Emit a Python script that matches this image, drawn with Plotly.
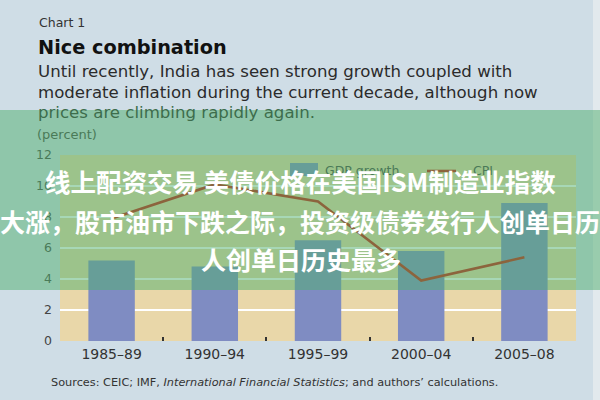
import plotly.graph_objects as go

# ---- data ----
periods = ["1985–89", "1990–94", "1995–99", "2000–04", "2005–08"]
gdp_growth = [5.2, 4.8, 6.5, 5.8, 8.9]
cpi = [7.9, 10.1, 9.0, 3.9, 5.4]
y_ticks = [0, 2, 4, 6, 8, 10, 12]

title_small = "Chart 1"
title_main = "Nice combination"
subtitle_lines = [
    "Until recently, India has seen strong growth coupled with",
    "moderate inflation during the current decade, although now",
    "prices are climbing rapidly again.",
]
unit_label = "(percent)"
source_text = ("Sources: CEIC; IMF, <i>International Financial Statistics</i>; "
               "and authors’ calculations.")
overlay_lines = [
    "线上配资交易 美债价格在美国ISM制造业指数",
    "大涨，股市油市下跌之际，投资级债券发行人创单日历",
    "人创单日历史最多",
]

# ---- layout geometry ----
W, H = 600, 400
L, R, T, B = 60, 24, 155, 59
PW, PH = W - L - R, H - T - B


def fx(px):
    return (px - L) / PW


def fy(py):
    return (H - B - py) / PH


OV = (79, 175, 109)
OV_A = 0.5


def blend(rgb):
    return "rgb(%d,%d,%d)" % tuple(round(c * (1 - OV_A) + o * OV_A) for c, o in zip(rgb, OV))


BAR_COLOR = "#7f8cc2"
LINE_COLOR = "rgb(200,25,12)"

fig = go.Figure()
fig.add_trace(go.Bar(x=periods, y=gdp_growth, name="GDP growth",
                     marker=dict(color=BAR_COLOR, line=dict(width=0)),
                     showlegend=False))
fig.add_trace(go.Scatter(x=periods, y=cpi, name="CPI", mode="lines",
                         line=dict(color=LINE_COLOR, width=2.6),
                         showlegend=False))

font_main = "DejaVu Sans"

annotations = []


def add_text(text, px, py, size, color, xanchor="left", bold=False, family=font_main):
    annotations.append(dict(
        text=text, x=fx(px), y=fy(py), xref="paper", yref="paper",
        xanchor=xanchor, yanchor="middle", showarrow=False,
        font=dict(family=family, size=size, color=color,
                  weight="bold" if bold else "normal"),
    ))


add_text(title_small, 37, 22, 12.5, "#333333")
add_text(title_main, 36, 47, 19.3, "#111111", bold=True)
add_text(subtitle_lines[0], 36, 72, 16.6, "#2b2b2b")
add_text(subtitle_lines[1], 36, 92, 16.6, "#2b2b2b")
add_text(subtitle_lines[2], 36, 112, 16.6, blend((43, 43, 43)))
add_text(unit_label, 35, 134, 13, blend((68, 68, 68)))
add_text("GDP growth", 323, 170, 12.5, blend((68, 68, 68)))
add_text("CPI", 471, 170, 12.5, blend((68, 68, 68)))
add_text(source_text, 49, 382, 11.3, "#333333")

for text, px, py, sz in zip(overlay_lines, [300, 300, 301], [180, 221, 259], [25.5, 25, 25]):
    add_text(text, px, py, sz, "white", xanchor="center", bold=True,
             family="Noto Sans CJK SC")

shapes = [
    # right light strip
    dict(type="rect", xref="paper", yref="paper", x0=fx(593), x1=fx(601),
         y0=fy(-1), y1=fy(401), fillcolor="#e2e9ed", line=dict(width=0), layer="below"),
    # legend swatches (under the overlay)
    dict(type="rect", xref="paper", yref="paper", x0=fx(290), x1=fx(318),
         y0=fy(176), y1=fy(163), fillcolor=BAR_COLOR, line=dict(width=0), layer="above"),
    dict(type="line", xref="paper", yref="paper", x0=fx(427), x1=fx(456),
         y0=fy(171), y1=fy(171), line=dict(color=LINE_COLOR, width=2.6), layer="above"),
    # translucent green banner
    dict(type="rect", xref="paper", yref="paper", x0=fx(-1), x1=fx(601),
         y0=fy(290), y1=fy(110),
         fillcolor="rgba(%d,%d,%d,%s)" % (*OV, OV_A), line=dict(width=0), layer="above"),
]

fig.update_layout(
    width=W, height=H,
    margin=dict(l=L, r=R, t=T, b=B, pad=0),
    paper_bgcolor="#cfdde6",
    plot_bgcolor="#e9d7a9",
    bargap=0.55,
    annotations=annotations,
    shapes=shapes,
    xaxis=dict(type="category", categoryorder="array", categoryarray=periods,
               tickson="boundaries", ticks="inside", ticklen=4, tickwidth=2,
               tickcolor="#333333", showgrid=False, showline=False, zeroline=False,
               ticklabelstandoff=3,
               tickfont=dict(family=font_main, size=14, color="#333333"),
               fixedrange=True),
    yaxis=dict(range=[0, 12], tickvals=y_ticks, showgrid=True, gridcolor="white",
               gridwidth=2, zeroline=False, showline=False, ticks="",
               ticklabelstandoff=7,
               tickfont=dict(family=font_main, size=12.5, color="#444444"),
               fixedrange=True),
)

fig.write_html("out.html")
